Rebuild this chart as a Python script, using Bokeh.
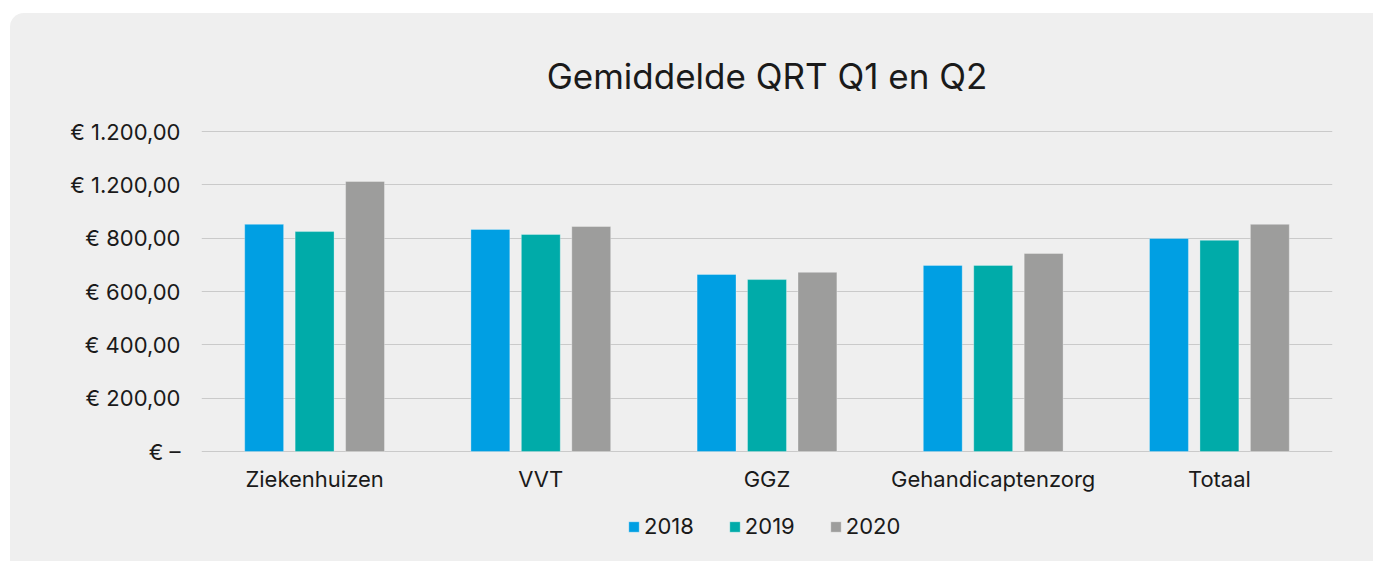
from bokeh.plotting import figure
from bokeh.models import ColumnDataSource, FixedTicker, Legend, LegendItem
from bokeh.core.properties import value
from bokeh.transform import dodge
from bokeh.embed import file_html
from bokeh.resources import INLINE

categories = ["Ziekenhuizen", "VVT", "GGZ", "Gehandicaptenzorg", "Totaal"]
years = ["2018", "2019", "2020"]
v2018 = [852, 833, 664, 698, 799]
v2019 = [825, 814, 645, 698, 792]
v2020 = [1013, 844, 672, 743, 852]
tick_values = [0, 200, 400, 600, 800, 1000, 1200]
tick_labels = ["€ –", "€ 200,00", "€ 400,00", "€ 600,00", "€ 800,00", "€ 1.200,00", "€ 1.200,00"]
colors = ["#009FE3", "#00ABA9", "#9D9D9C"]

FONT = "Inter"
BG = "#EFEFEF"
GRID = "#CACACA"
TXT = "#1a1a1a"

src = ColumnDataSource(dict(cat=categories, y2018=v2018, y2019=v2019, y2020=v2020))

# the frame extends below zero to host the category labels and the legend
p = figure(x_range=categories, y_range=(-356, 1204), width=1363, height=548,
           output_backend="svg", toolbar_location=None,
           min_border_left=191, min_border_right=41, min_border_top=117, min_border_bottom=15)
p.styles = {"margin-left": "10px", "margin-top": "13px", "background-color": BG,
            "border-radius": "14px 0 0 0", "overflow": "hidden"}
p.x_range.range_padding = 0
p.background_fill_color = None
p.border_fill_color = None
p.outline_line_color = None

p.title.text = "Gemiddelde QRT Q1 en Q2"
p.title.align = "center"
p.title.text_font = FONT
p.title.text_font_size = "35px"
p.title.text_font_style = "normal"
p.title.text_color = TXT
p.title.standoff = 68

offsets = [-0.223, 0.0, 0.223]
fields = ["y2018", "y2019", "y2020"]
renderers = []
for f, off, c in zip(fields, offsets, colors):
    r = p.vbar(x=dodge("cat", off, range=p.x_range), top=f, width=0.172, source=src,
               fill_color=c, line_color="white", line_alpha=0.3, line_width=1)
    renderers.append(r)

# category labels under the zero line
p.text(x="cat", y=-102, text="cat", source=src, text_align="center", text_baseline="middle",
       text_font=value(FONT), text_font_size="22px", text_color=TXT)

p.yaxis.ticker = FixedTicker(ticks=tick_values)
p.yaxis.major_label_overrides = {v: l for v, l in zip(tick_values, tick_labels)}
p.yaxis.axis_line_color = None
p.yaxis.major_tick_line_color = None
p.yaxis.minor_tick_line_color = None
p.yaxis.major_label_standoff = 15
p.yaxis.major_label_text_font = FONT
p.yaxis.major_label_text_font_size = "22px"
p.yaxis.major_label_text_color = TXT

p.xaxis.visible = False
p.xgrid.grid_line_color = None
p.ygrid.grid_line_color = GRID
p.ygrid.grid_line_width = 1
p.ygrid.ticker = FixedTicker(ticks=tick_values)

legend = Legend(items=[LegendItem(label=y, renderers=[r]) for y, r in zip(years, renderers)],
                orientation="horizontal", location=(426, 7),
                glyph_width=13, glyph_height=13, label_standoff=4, spacing=34,
                label_text_font=FONT, label_text_font_size="22px", label_text_color=TXT,
                border_line_color=None, background_fill_alpha=0, padding=0, margin=0)
p.add_layout(legend, "center")

open("out.html", "w").write(file_html(p, INLINE))
